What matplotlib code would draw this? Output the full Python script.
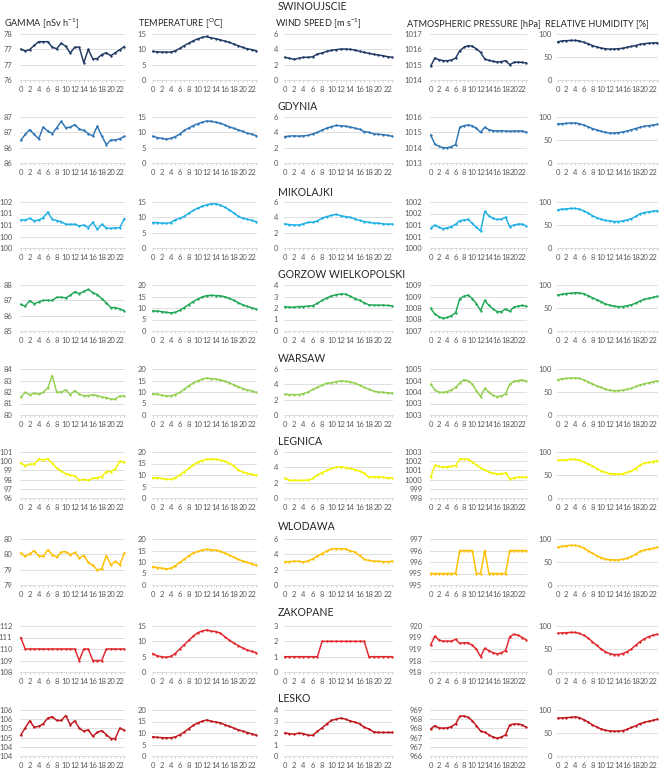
import math
import matplotlib
matplotlib.use('Agg')
import matplotlib.pyplot as plt
from matplotlib.ticker import MultipleLocator, FuncFormatter

plt.rcParams['font.family'] = ['Lato', 'DejaVu Sans']

hours = list(range(24))
stations = ['SWINOUJSCIE', 'GDYNIA', 'MIKOLAJKI', 'GORZOW WIELKOPOLSKI', 'WARSAW',
            'LEGNICA', 'WLODAWA', 'ZAKOPANE', 'LESKO']
station_colors = ['#1F3864', '#2E75B6', '#1CB0E6', '#1FA855', '#92D050',
                  '#F2F200', '#FFC000', '#E3262B', '#C0141B']
headers = [r'GAMMA [nSv h$^{\mathregular{-1}}$]', r'TEMPERATURE [$^{\mathregular{O}}$C]',
           r'WIND SPEED [m s$^{\mathregular{-1}}$]', 'ATMOSPHERIC PRESSURE [hPa]',
           'RELATIVE HUMIDITY [%]']

# gamma dose rate [nSv/h]
gamma_swinoujscie = [77.00, 76.95, 76.99, 77.13, 77.25, 77.25, 77.25, 77.07, 77.02, 77.20, 77.10, 76.88,
                     77.07, 77.07, 76.56, 77.00, 76.69, 76.70, 76.83, 76.89, 76.79, 76.89, 76.99, 77.09]
gamma_gdynia = [86.24, 86.43, 86.59, 86.43, 86.29, 86.67, 86.54, 86.46, 86.65, 86.86, 86.65, 86.67,
                86.75, 86.61, 86.56, 86.46, 86.38, 86.70, 86.38, 86.10, 86.25, 86.25, 86.29, 86.37]
gamma_mikolajki = [100.72, 100.72, 100.79, 100.68, 100.72, 100.82, 101.06, 100.75, 100.69, 100.65, 100.53, 100.53,
                   100.53, 100.46, 100.50, 100.38, 100.62, 100.31, 100.53, 100.37, 100.35, 100.38, 100.38, 100.78]
gamma_gorzow = [86.73, 86.62, 86.98, 86.78, 86.89, 87.00, 87.00, 87.00, 87.20, 87.20, 87.16, 87.33,
                87.56, 87.44, 87.58, 87.71, 87.51, 87.38, 87.11, 86.84, 86.53, 86.53, 86.42, 86.33]
gamma_warsaw = [81.55, 81.96, 81.75, 81.90, 81.81, 81.96, 82.34, 83.42, 81.99, 81.99, 82.19, 81.75,
                82.13, 81.81, 81.69, 81.69, 81.75, 81.69, 81.55, 81.52, 81.37, 81.40, 81.66, 81.66]
gamma_legnica = [99.79, 99.53, 99.68, 99.71, 100.23, 100.15, 100.26, 99.79, 99.24, 98.94, 98.65, 98.50,
                 98.39, 97.95, 98.02, 97.91, 98.17, 98.21, 98.32, 98.87, 98.87, 99.16, 100.04, 99.86]
gamma_wlodawa = [79.54, 79.43, 79.52, 79.62, 79.45, 79.43, 79.65, 79.49, 79.41, 79.57, 79.59, 79.49,
                 79.56, 79.38, 79.46, 79.24, 79.14, 78.99, 79.03, 79.46, 79.16, 79.27, 79.16, 79.54]
gamma_zakopane = [111, 110, 110, 110, 110, 110, 110, 110, 110, 110, 110, 110,
                  110, 109, 110, 110, 109, 109, 109, 110, 110, 110, 110, 110]
gamma_lesko = [104.63, 105.02, 105.41, 105.07, 105.11, 105.25, 105.55, 105.64, 105.43, 105.43, 105.70, 105.20,
               105.41, 105.02, 104.84, 104.93, 104.57, 104.79, 104.88, 104.66, 104.45, 104.45, 105.02, 104.89]

# air temperature [C]
temp_swinoujscie = [9.3, 9.2, 9.1, 9.1, 9.1, 9.5, 10.3, 11.2, 12.0, 12.8, 13.4, 13.9,
                    14.2, 13.7, 13.5, 13.1, 12.7, 12.3, 11.7, 11.2, 10.6, 10.2, 9.9, 9.5]
temp_gdynia = [8.7, 8.3, 8.0, 7.8, 8.0, 8.6, 9.4, 10.6, 11.4, 12.2, 12.8, 13.3,
               13.7, 13.6, 13.3, 13.0, 12.4, 11.8, 11.3, 10.8, 10.3, 9.7, 9.4, 8.9]
temp_mikolajki = [8.3, 8.3, 8.1, 8.0, 8.3, 9.2, 9.7, 10.3, 11.3, 12.3, 13.0, 13.6,
                  14.1, 14.4, 14.4, 14.0, 13.3, 12.5, 11.4, 10.3, 9.7, 9.4, 9.0, 8.6]
temp_gorzow = [8.7, 8.7, 8.4, 8.1, 7.9, 8.1, 9.0, 10.2, 11.5, 12.8, 13.9, 14.8,
               15.4, 15.5, 15.4, 15.3, 14.9, 14.2, 13.3, 12.3, 11.4, 10.7, 10.1, 9.5]
temp_warsaw = [9.2, 9.1, 8.6, 8.3, 8.3, 8.9, 9.8, 11.2, 12.7, 13.9, 14.9, 15.6,
               16.1, 15.8, 15.6, 15.3, 14.7, 14.0, 13.1, 12.3, 11.5, 10.9, 10.4, 9.8]
temp_legnica = [8.8, 8.8, 8.5, 8.1, 8.1, 8.8, 10.0, 11.5, 12.9, 14.4, 15.6, 16.3,
                16.9, 16.9, 16.8, 16.5, 15.9, 15.1, 14.0, 12.2, 11.3, 10.7, 10.3, 9.8]
temp_wlodawa = [8.0, 7.6, 7.3, 7.0, 7.3, 8.3, 9.8, 11.2, 12.7, 13.9, 14.6, 15.2,
                15.5, 15.3, 15.2, 14.6, 13.9, 13.0, 12.0, 11.1, 10.4, 9.8, 9.2, 8.6]
temp_zakopane = [6.0, 5.3, 5.0, 4.8, 5.1, 6.0, 7.5, 8.9, 10.3, 11.7, 12.8, 13.4,
                 13.7, 13.3, 13.2, 12.7, 11.5, 10.4, 9.4, 8.6, 7.8, 7.2, 6.7, 6.3]
temp_lesko = [8.4, 8.1, 8.0, 7.9, 7.9, 8.3, 9.2, 10.4, 11.9, 13.3, 14.4, 15.1,
              15.7, 15.1, 14.8, 14.4, 13.6, 12.9, 12.1, 11.4, 10.8, 10.2, 9.6, 9.0]

# wind speed [m/s]
wind_swinoujscie = [2.96, 2.83, 2.70, 2.83, 2.96, 2.96, 3.04, 3.39, 3.52, 3.74, 3.87, 3.96,
                    4.04, 4.04, 4.00, 3.91, 3.74, 3.61, 3.48, 3.35, 3.26, 3.17, 3.04, 2.96]
wind_gdynia = [3.45, 3.50, 3.55, 3.50, 3.55, 3.60, 3.80, 4.00, 4.30, 4.55, 4.75, 4.90,
               4.85, 4.80, 4.70, 4.55, 4.40, 4.10, 4.00, 3.80, 3.75, 3.70, 3.60, 3.50]
wind_mikolajki = [3.15, 3.05, 3.00, 3.00, 3.15, 3.35, 3.35, 3.55, 3.90, 4.10, 4.25, 4.40,
                  4.20, 4.10, 4.00, 3.80, 3.60, 3.45, 3.35, 3.25, 3.25, 3.15, 3.10, 3.15]
wind_gorzow = [2.13, 2.07, 2.07, 2.13, 2.13, 2.16, 2.20, 2.42, 2.66, 2.88, 3.05, 3.15,
               3.23, 3.20, 3.02, 2.82, 2.66, 2.45, 2.28, 2.25, 2.25, 2.25, 2.22, 2.19]
wind_warsaw = [2.70, 2.67, 2.67, 2.67, 2.80, 3.00, 3.35, 3.60, 3.90, 4.15, 4.20, 4.35,
               4.45, 4.40, 4.30, 4.15, 3.90, 3.60, 3.35, 3.10, 3.00, 2.95, 2.90, 2.85]
wind_legnica = [2.60, 2.30, 2.30, 2.30, 2.30, 2.35, 2.55, 3.00, 3.30, 3.60, 3.85, 4.00,
                4.10, 3.95, 3.85, 3.70, 3.50, 3.25, 2.70, 2.80, 2.75, 2.70, 2.65, 2.60]
wind_wlodawa = [3.05, 3.05, 3.10, 3.08, 3.00, 3.15, 3.40, 3.80, 4.10, 4.45, 4.70, 4.75,
                4.75, 4.70, 4.45, 4.30, 3.85, 3.35, 3.20, 3.10, 3.10, 3.05, 3.05, 3.10]
wind_zakopane = [1, 1, 1, 1, 1, 1, 1, 1, 2, 2, 2, 2,
                 2, 2, 2, 2, 2, 2, 1, 1, 1, 1, 1, 1]
wind_lesko = [2.00, 1.95, 1.88, 2.00, 1.95, 1.80, 1.80, 2.15, 2.45, 2.80, 3.10, 3.20,
              3.30, 3.20, 3.05, 2.95, 2.80, 2.50, 2.35, 2.10, 2.05, 2.05, 2.05, 2.05]

# atmospheric pressure [hPa]
press_swinoujscie = [1014.89, 1015.43, 1015.33, 1015.26, 1015.26, 1015.30, 1015.43, 1015.91, 1016.13, 1016.24, 1016.20, 1016.04,
                     1015.80, 1015.37, 1015.28, 1015.22, 1015.17, 1015.20, 1015.26, 1015.00, 1015.15, 1015.17, 1015.15, 1015.11]
press_gdynia = [1014.83, 1014.24, 1014.09, 1014.00, 1014.00, 1014.07, 1014.20, 1015.33, 1015.43, 1015.48, 1015.43, 1015.26,
                1015.00, 1015.33, 1015.17, 1015.11, 1015.09, 1015.11, 1015.09, 1015.07, 1015.09, 1015.09, 1015.09, 1015.00]
press_mikolajki = [1000.85, 1001.00, 1000.90, 1000.84, 1000.88, 1000.93, 1001.03, 1001.19, 1001.22, 1001.24, 1001.07, 1000.90,
                   1000.74, 1001.59, 1001.40, 1001.29, 1001.24, 1001.25, 1001.34, 1000.93, 1001.00, 1001.04, 1001.04, 1000.96]
press_gorzow = [1007.99, 1007.74, 1007.62, 1007.55, 1007.59, 1007.67, 1007.79, 1008.41, 1008.51, 1008.56, 1008.41, 1008.19,
                1007.89, 1008.33, 1008.11, 1007.96, 1007.84, 1007.84, 1007.96, 1007.86, 1008.04, 1008.08, 1008.11, 1008.08]
press_warsaw = [1003.84, 1003.59, 1003.49, 1003.48, 1003.52, 1003.59, 1003.70, 1003.89, 1004.03, 1003.99, 1003.84, 1003.56,
                1003.30, 1003.66, 1003.49, 1003.35, 1003.30, 1003.33, 1003.42, 1003.84, 1003.96, 1004.00, 1004.03, 1003.96]
press_legnica = [1000.26, 1001.54, 1001.43, 1001.36, 1001.39, 1001.47, 1001.50, 1002.23, 1002.23, 1002.20, 1001.91, 1001.61,
                 1001.28, 1001.07, 1000.81, 1000.70, 1000.63, 1000.63, 1000.74, 1000.07, 1000.18, 1000.26, 1000.26, 1000.26]
press_wlodawa = [995, 995, 995, 995, 995, 995, 995, 996, 996, 996, 996, 995,
                 995, 996, 995, 995, 995, 995, 995, 996, 996, 996, 996, 996]
press_zakopane = [918.67, 919.06, 918.89, 918.84, 918.84, 918.84, 918.92, 918.74, 918.77, 918.77, 918.67, 918.49,
                  918.17, 918.53, 918.43, 918.34, 918.29, 918.34, 918.43, 919.03, 919.14, 919.10, 919.00, 918.89]
press_lesko = [967.47, 967.65, 967.53, 967.51, 967.53, 967.60, 967.74, 968.16, 968.18, 968.10, 967.92, 967.65,
               967.35, 967.29, 967.15, 967.03, 966.97, 967.03, 967.15, 967.69, 967.74, 967.74, 967.69, 967.56]

# relative humidity [%]
rh_swinoujscie = [83, 85, 85.5, 86, 86, 85, 82, 79, 75, 72, 69.5, 68,
                  67, 67.5, 68, 69, 71, 73, 75, 77.5, 79, 80, 80.5, 81]
rh_gdynia = [85, 85.5, 86, 87, 87, 85.5, 82.5, 79, 75, 72, 69, 67,
             65, 65, 66, 67.5, 69.5, 72, 75, 77.5, 80, 81, 82.5, 84]
rh_mikolajki = [83, 84.5, 85, 86, 86, 84.5, 81, 76, 70.5, 66, 62.5, 60,
                59, 57.5, 57.5, 59, 61, 64, 68.5, 74.5, 77, 78.5, 80, 81.5]
rh_gorzow = [78, 80, 81.5, 82, 83, 83, 81, 77, 72.5, 68, 64, 59,
             56, 54, 53, 53, 55, 57, 60.5, 65, 69, 71, 73, 75.5]
rh_warsaw = [76.5, 79, 79.5, 80, 81, 79.5, 76.5, 72, 68, 63.5, 60, 56,
             54, 53, 53, 54, 56, 58, 62, 65.5, 68, 70, 72, 74.5]
rh_legnica = [82, 82.5, 83, 84, 84, 82.5, 79, 74.5, 69.5, 64, 59, 55.5,
              53, 52.5, 52, 53, 55.5, 59, 64, 71.5, 76, 77.5, 79, 81]
rh_wlodawa = [82, 84, 85.5, 86, 86, 84.5, 80, 75, 69, 64, 59.5, 56.5,
              55, 54.5, 54.5, 56, 58, 62, 67, 73, 76, 78, 79.5, 82]
rh_zakopane = [84, 85, 85.5, 86, 86, 84, 80, 74, 66, 58, 50, 44,
               40, 38, 38, 40, 44, 50, 58, 66, 72, 77, 80, 82]
rh_lesko = [82, 82.7, 83.5, 84, 85, 83.5, 79, 74, 68, 63, 59, 56,
            54.5, 54, 54, 55, 58, 62, 65.5, 70.5, 73, 75.5, 77.5, 80]

# y axis (min, max, step) per station, same order as stations
gamma_axis = [(76, 77.5, 0.5), (85.5, 87, 0.5), (99.5, 101.5, 0.5), (85, 88, 1), (80, 84, 1),
              (96, 101, 1), (78.5, 80, 0.5), (108, 112, 1), (103.5, 106, 0.5)]
temp_axis = [(0, 15, 5), (0, 15, 5), (0, 15, 5), (0, 20, 5), (0, 20, 5),
             (0, 20, 5), (0, 20, 5), (0, 15, 5), (0, 20, 5)]
wind_axis = [(0, 6, 2), (0, 6, 2), (0, 6, 2), (0, 4, 1), (0, 6, 2),
             (0, 6, 2), (0, 6, 2), (0, 3, 1), (0, 4, 1)]
press_axis = [(1014, 1017, 1), (1013, 1016, 1), (1000, 1002, 0.5), (1007, 1009, 0.5), (1002.5, 1004.5, 0.5),
              (998, 1003, 1), (994.5, 996.5, 0.5), (917.5, 919.5, 0.5), (966, 968.5, 0.5)]
rh_axis = [(0, 100, 50)] * 9

gamma = [gamma_swinoujscie, gamma_gdynia, gamma_mikolajki, gamma_gorzow, gamma_warsaw,
         gamma_legnica, gamma_wlodawa, gamma_zakopane, gamma_lesko]
temp = [temp_swinoujscie, temp_gdynia, temp_mikolajki, temp_gorzow, temp_warsaw,
        temp_legnica, temp_wlodawa, temp_zakopane, temp_lesko]
wind = [wind_swinoujscie, wind_gdynia, wind_mikolajki, wind_gorzow, wind_warsaw,
        wind_legnica, wind_wlodawa, wind_zakopane, wind_lesko]
press = [press_swinoujscie, press_gdynia, press_mikolajki, press_gorzow, press_warsaw,
         press_legnica, press_wlodawa, press_zakopane, press_lesko]
rh = [rh_swinoujscie, rh_gdynia, rh_mikolajki, rh_gorzow, rh_warsaw,
      rh_legnica, rh_wlodawa, rh_zakopane, rh_lesko]
columns = [gamma, temp, wind, press, rh]
column_axes = [gamma_axis, temp_axis, wind_axis, press_axis, rh_axis]

# layout in pixels
W, H = 669, 771
col_x = [(20, 125), (152, 257), (284, 393), (430, 527), (557, 658)]
col_pad = [5.5, 4.3, 4.3, 5.5, 3.6]
header_x = [4, 138, 275, 407, 545]
row_top = [34, 117, 202, 285, 369, 452, 539, 626, 710]
name_y = [7, 107, 192, 274, 358, 442, 527, 613, 699]
row_h = 46


def excel_round(v, pos):
    # excel rounds halves up, which gives the doubled labels
    return '%d' % math.floor(v + 0.5 + 1e-6)


fig = plt.figure(figsize=(W / 100, H / 100), dpi=100)

for c, head in enumerate(headers):
    fig.text(header_x[c] / W, 1 - 24 / H, head, fontsize=6.6, color='#262626', va='center', ha='left')

for r, name in enumerate(stations):
    fig.text(278 / W, 1 - name_y[r] / H, name, fontsize=7.6, color='#262626', va='center', ha='left')
    for c in range(5):
        x0, x1 = col_x[c]
        ax = fig.add_axes([x0 / W, 1 - (row_top[r] + row_h) / H, (x1 - x0) / W, row_h / H])
        ax.plot(hours, columns[c][r], color=station_colors[r], lw=1.05,
                marker='o', ms=1.7, mew=0, solid_joinstyle='round')
        lo, hi, step = column_axes[c][r]
        ax.set_ylim(lo, hi)
        ax.set_xlim(-0.15, 23.15)
        ax.yaxis.set_major_locator(MultipleLocator(step))
        ax.yaxis.set_major_formatter(FuncFormatter(excel_round))
        ax.set_xticks(range(0, 24, 2))
        ax.set_xticks(range(24), minor=True)
        ax.grid(axis='y', color='#D9D9D9', lw=0.6)
        ax.set_axisbelow(True)
        for s in ['top', 'right', 'left']:
            ax.spines[s].set_visible(False)
        ax.spines['bottom'].set_color('#D9D9D9')
        ax.spines['bottom'].set_linewidth(0.6)
        ax.tick_params(axis='x', which='both', length=1.5, width=0.5, color='#BFBFBF',
                       labelsize=5.5, labelcolor='#595959', pad=2.5)
        ax.tick_params(axis='y', length=0, labelsize=5.5, labelcolor='#595959', pad=col_pad[c])

fig.savefig('out.png', dpi=100)
plt.close()
